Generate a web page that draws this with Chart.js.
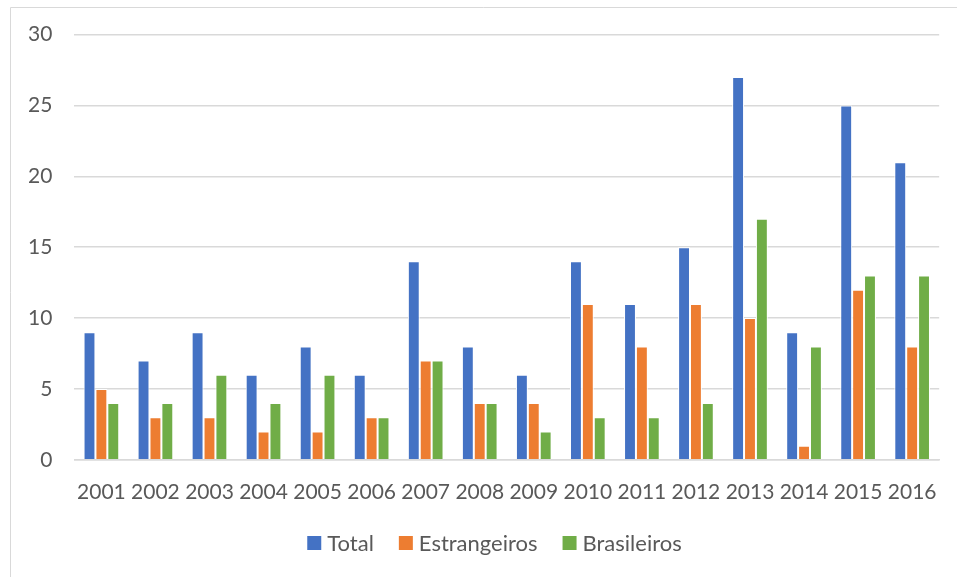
<!DOCTYPE html>
<html>
<head>
<meta charset="utf-8">
<script src="https://cdn.jsdelivr.net/npm/chart.js@4/dist/chart.umd.min.js"></script>
<style>
  html, body { margin: 0; padding: 0; background: #ffffff; }
  #wrap { position: relative; width: 957px; height: 577px; }
</style>
</head>
<body>
<div id="wrap"><canvas id="chart" width="957" height="577"></canvas></div>
<script>
// Years on the category axis
const years = ['2001','2002','2003','2004','2005','2006','2007','2008',
               '2009','2010','2011','2012','2013','2014','2015','2016'];

// Counts per year
const total        = [9, 7, 9, 6, 8, 6, 14, 8, 6, 14, 11, 15, 27, 9, 25, 21];
const estrangeiros = [5, 3, 3, 2, 2, 3, 7, 4, 4, 11, 8, 11, 10, 1, 12, 8];
const brasileiros  = [4, 4, 6, 4, 6, 3, 7, 4, 2, 3, 3, 4, 17, 8, 13, 13];

// Value-axis ticks
const yTicks = [0, 5, 10, 15, 20, 25, 30];

const textColor = '#595959';
const gridColor = '#d9d9d9';
const fontFamily = 'Lato, "Open Sans", "Liberation Sans", sans-serif';

// Thin light frame around the whole chart
const framePlugin = {
  id: 'frame',
  beforeDraw(chart) {
    const ctx = chart.ctx;
    ctx.save();
    ctx.strokeStyle = '#d9d9d9';
    ctx.lineWidth = 1;
    ctx.beginPath();
    ctx.moveTo(10.5, 577);
    ctx.lineTo(10.5, 7.5);
    ctx.lineTo(957, 7.5);
    ctx.stroke();
    ctx.restore();
  }
};

// Series key centred below the category labels: square swatch, then name
const keyPlugin = {
  id: 'seriesKey',
  afterDraw(chart) {
    const ctx = chart.ctx;
    const box = 14, textGap = 6, itemGap = 25;
    const y = 543;
    ctx.save();
    ctx.font = '22px ' + fontFamily;
    ctx.textBaseline = 'middle';
    const items = chart.data.datasets.map(ds => ({
      label: ds.label,
      color: ds.backgroundColor,
      width: box + textGap + ctx.measureText(ds.label).width
    }));
    const full = items.reduce((s, it) => s + it.width, 0) + itemGap * (items.length - 1);
    let x = (chart.width - full) / 2 + 16;
    items.forEach(it => {
      ctx.fillStyle = it.color;
      ctx.fillRect(x, y - box / 2, box, box);
      ctx.fillStyle = textColor;
      ctx.fillText(it.label, x + box + textGap, y + 1);
      x += it.width + itemGap;
    });
    ctx.restore();
  }
};

function series(label, data, color) {
  return {
    label,
    data,
    backgroundColor: color,
    borderColor: '#ffffff',
    borderWidth: 1,
    barPercentage: 1.0,
    categoryPercentage: 0.66
  };
}

new Chart(document.getElementById('chart'), {
  type: 'bar',
  data: {
    labels: years,
    datasets: [
      series('Total', total, '#4472C4'),
      series('Estrangeiros', estrangeiros, '#ED7D31'),
      series('Brasileiros', brasileiros, '#70AD47')
    ]
  },
  options: {
    responsive: false,
    animation: false,
    layout: { padding: { left: 6, right: 16, top: 33, bottom: 52 } },
    plugins: {
      legend: { display: false },
      tooltip: { enabled: false }
    },
    scales: {
      x: {
        grid: { display: false, drawTicks: false },
        border: { display: true, color: gridColor, width: 1.5 },
        ticks: {
          color: textColor,
          font: { family: fontFamily, size: 21 },
          padding: 20,
          maxRotation: 0,
          autoSkip: false
        }
      },
      y: {
        min: 0,
        max: 30,
        afterBuildTicks(scale) {
          scale.ticks = yTicks.map(v => ({ value: v }));
        },
        grid: { color: gridColor, lineWidth: 1.5, drawTicks: false },
        border: { display: false },
        ticks: {
          color: textColor,
          font: { family: fontFamily, size: 21 },
          padding: 22
        }
      }
    }
  },
  plugins: [framePlugin, keyPlugin]
});
</script>
</body>
</html>
